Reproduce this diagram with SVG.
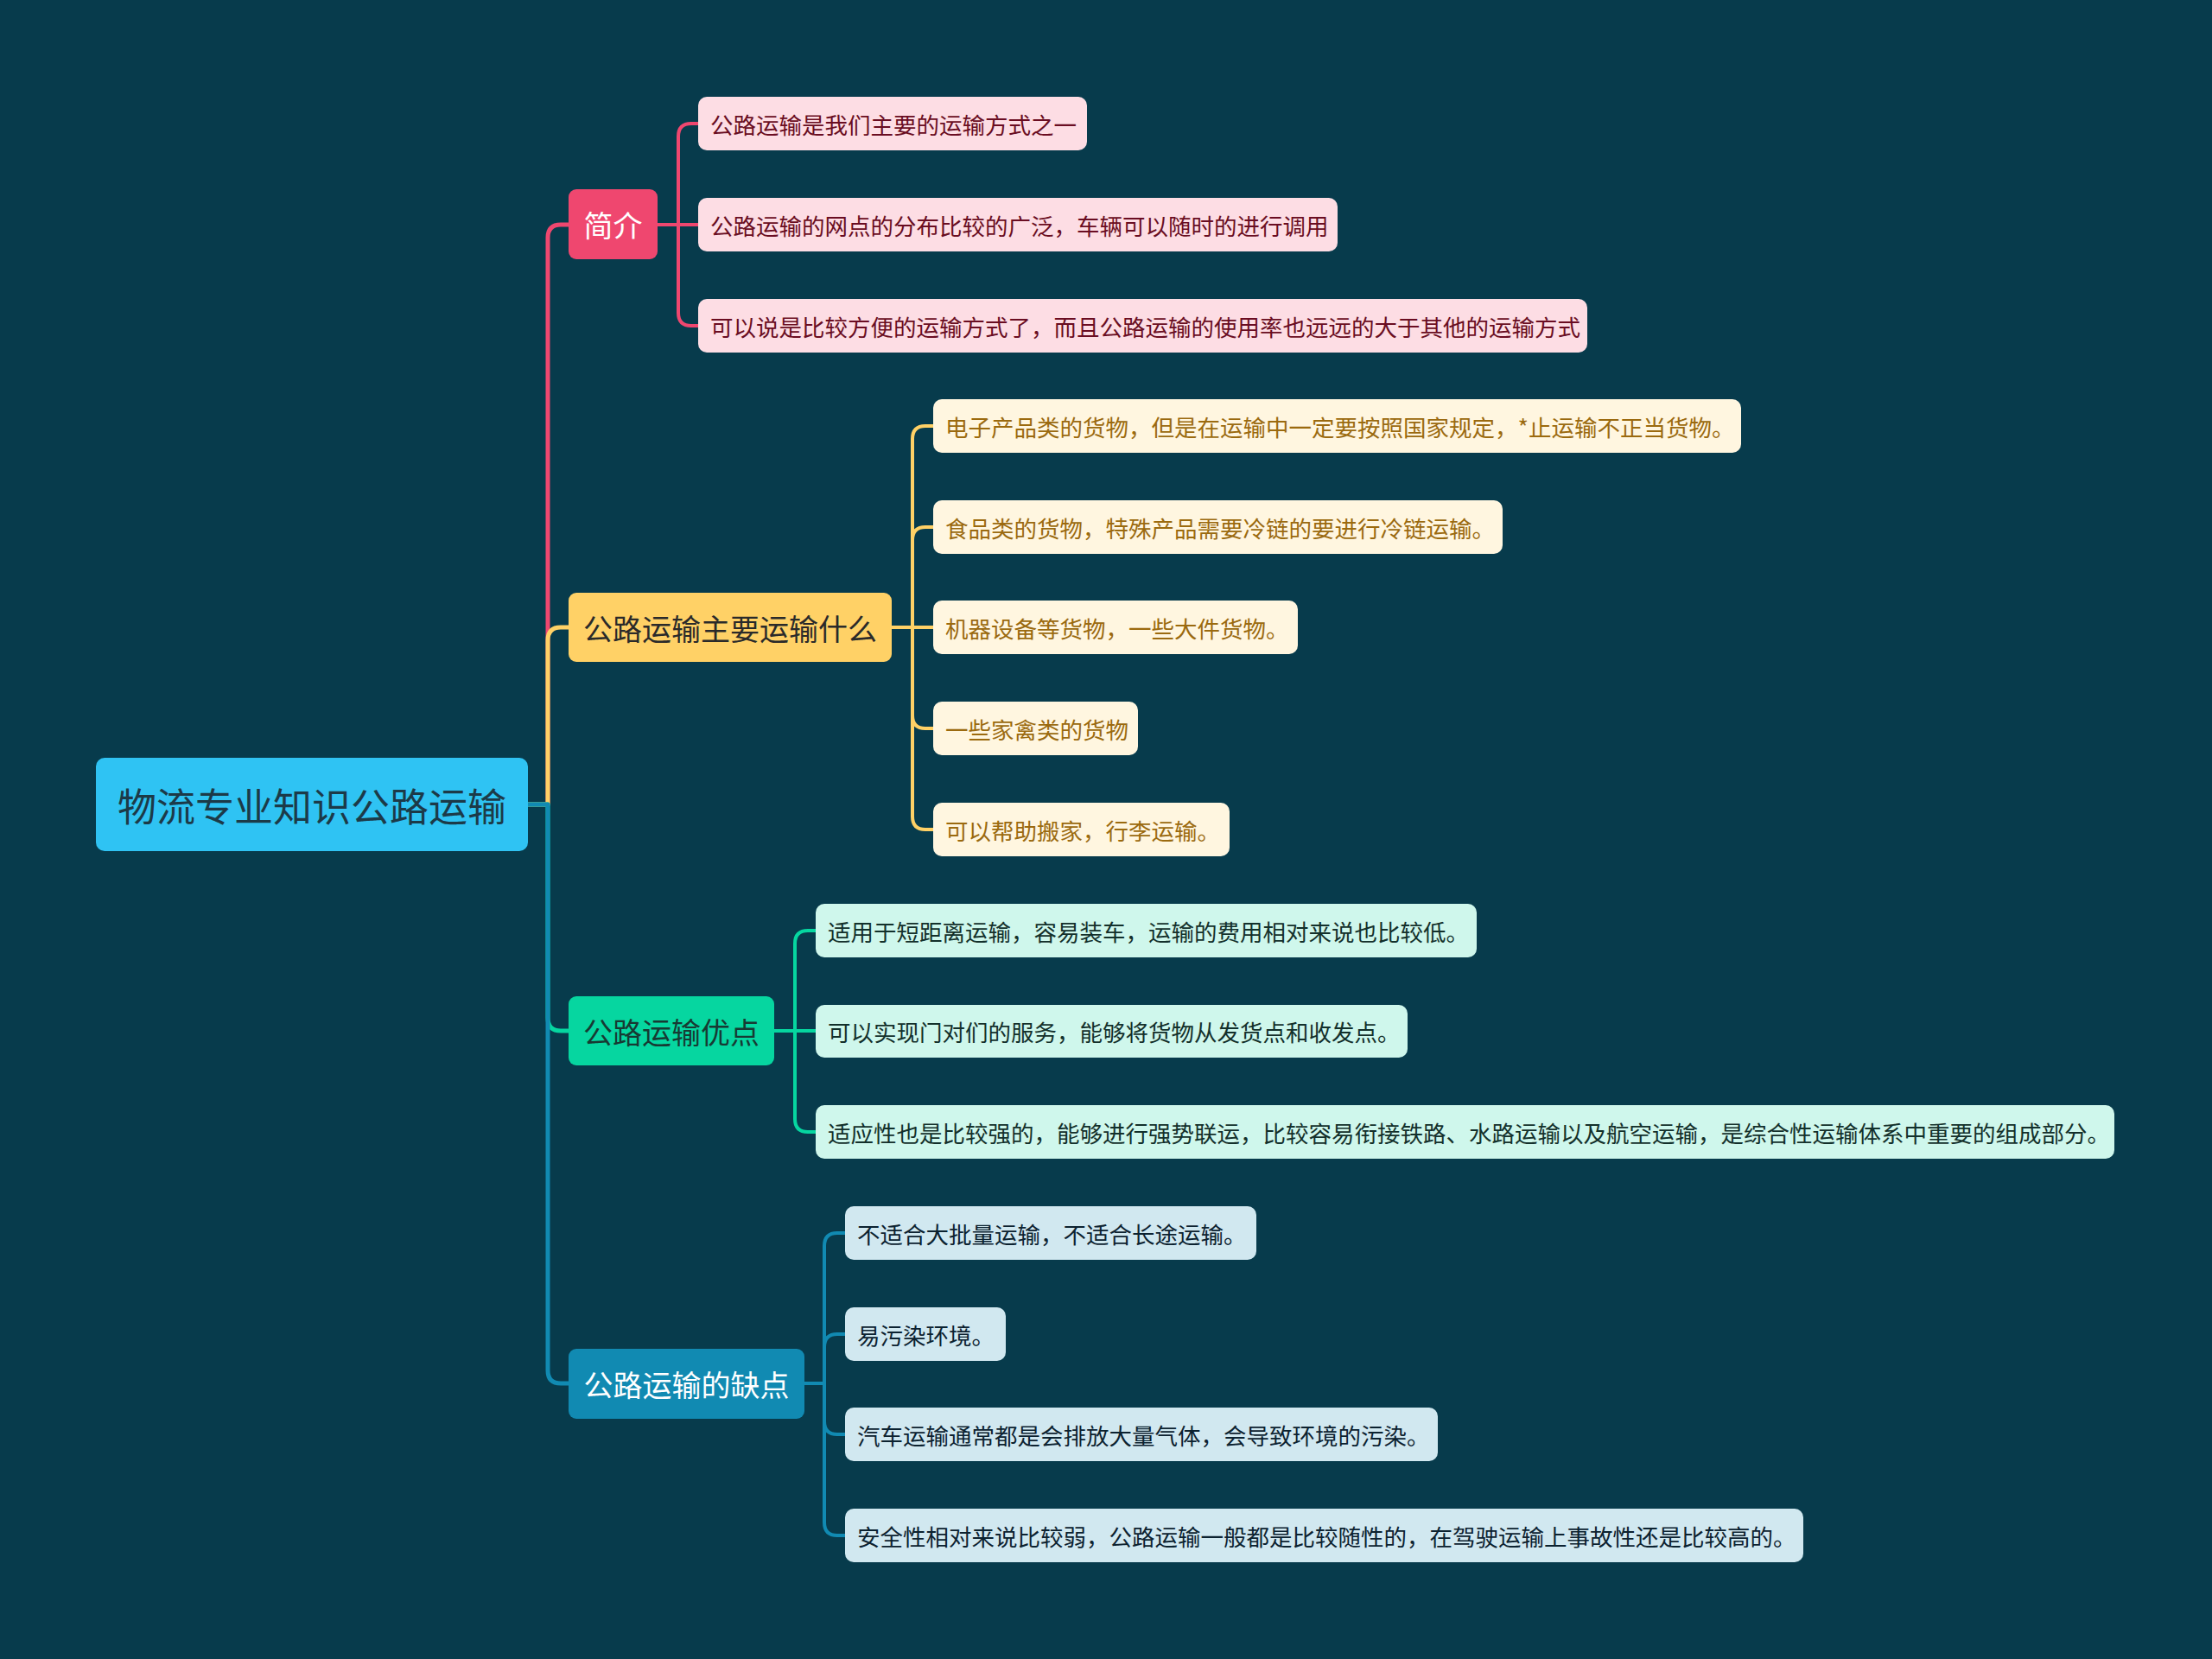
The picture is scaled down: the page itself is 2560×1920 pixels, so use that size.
<svg xmlns="http://www.w3.org/2000/svg" width="2560" height="1920" viewBox="0 0 2560 1920">
<style>
text{font-family:"Noto Sans CJK SC","Noto Sans",sans-serif;dominant-baseline:central}
.c{fill:none;stroke-linecap:round;stroke-linejoin:round}
.m{stroke-width:5}
.l{stroke-width:4}
.leaf text{font-size:26.5px}
.br text{font-size:34px;text-anchor:middle}
.pk{stroke:#ef476f}.yl{stroke:#ffd166}.gr{stroke:#06d6a0}.bl{stroke:#118ab2}
.lp rect{fill:#fddde4}.lp text{fill:#6a0d22}
.ly rect{fill:#fff6e0}.ly text{fill:#9b6a0f}
.lg rect{fill:#cff7ec}.lg text{fill:#13302b}
.lb rect{fill:#d1e8f0}.lb text{fill:#0c2230}
</style>
<rect width="2560" height="1920" fill="#073b4c"/>
<g id="connectors">
<path class="c m pk" d="M611 931 H634 V275 Q634 260 649 260 H658"/>
<path class="c m yl" d="M611 931 H634 V741 Q634 726 649 726 H658"/>
<path class="c m gr" d="M611 931 H634 V1178 Q634 1193 649 1193 H658"/>
<path class="c m bl" d="M611 931 H634 V1586 Q634 1601 649 1601 H658"/>
<path class="c l pk" d="M761 260 H785 V158 Q785 143 800 143 H808"/>
<path class="c l pk" d="M761 260 H808"/>
<path class="c l pk" d="M761 260 H785 V362 Q785 377 800 377 H808"/>
<path class="c l yl" d="M1032 726 H1056 V508 Q1056 493 1071 493 H1080"/>
<path class="c l yl" d="M1032 726 H1056 V625 Q1056 610 1071 610 H1080"/>
<path class="c l yl" d="M1032 726 H1080"/>
<path class="c l yl" d="M1032 726 H1056 V828 Q1056 843 1071 843 H1080"/>
<path class="c l yl" d="M1032 726 H1056 V945 Q1056 960 1071 960 H1080"/>
<path class="c l gr" d="M896 1193 H920 V1092 Q920 1077 935 1077 H944"/>
<path class="c l gr" d="M896 1193 H944"/>
<path class="c l gr" d="M896 1193 H920 V1295 Q920 1310 935 1310 H944"/>
<path class="c l bl" d="M931 1601 H954 V1442 Q954 1427 969 1427 H978"/>
<path class="c l bl" d="M931 1601 H954 V1559 Q954 1544 969 1544 H978"/>
<path class="c l bl" d="M931 1601 H954 V1645 Q954 1660 969 1660 H978"/>
<path class="c l bl" d="M931 1601 H954 V1762 Q954 1777 969 1777 H978"/>
</g>
<g id="root"><rect x="111" y="877" width="500" height="108" rx="10" fill="#2fc3f3"/><text x="361" y="931" font-size="45" text-anchor="middle" fill="#1c3a48">物流专业知识公路运输</text></g>
<g id="b1" class="br"><rect x="658" y="219" width="103" height="81" rx="9" fill="#ef476f"/><text x="709.5" y="259.5" fill="#ffffff">简介</text></g>
<g id="b2" class="br"><rect x="658" y="686" width="374" height="80" rx="9" fill="#ffd166"/><text x="845" y="726" fill="#2a2a2a">公路运输主要运输什么</text></g>
<g id="b3" class="br"><rect x="658" y="1153" width="238" height="80" rx="9" fill="#06d6a0"/><text x="777" y="1193" fill="#173a33">公路运输优点</text></g>
<g id="b4" class="br"><rect x="658" y="1561" width="273" height="81" rx="9" fill="#118ab2"/><text x="794.5" y="1601.5" fill="#ffffff">公路运输的缺点</text></g>
<g id="p1" class="leaf lp"><rect x="808" y="112" width="450" height="62" rx="10"/><text x="822" y="143">公路运输是我们主要的运输方式之一</text></g>
<g id="p2" class="leaf lp"><rect x="808" y="229" width="740" height="62" rx="10"/><text x="822" y="260">公路运输的网点的分布比较的广泛，车辆可以随时的进行调用</text></g>
<g id="p3" class="leaf lp"><rect x="808" y="346" width="1029" height="62" rx="10"/><text x="822" y="377">可以说是比较方便的运输方式了，而且公路运输的使用率也远远的大于其他的运输方式</text></g>
<g id="y1" class="leaf ly"><rect x="1080" y="462" width="935" height="62" rx="10"/><text x="1094" y="493">电子产品类的货物，但是在运输中一定要按照国家规定，*止运输不正当货物。</text></g>
<g id="y2" class="leaf ly"><rect x="1080" y="579" width="659" height="62" rx="10"/><text x="1094" y="610">食品类的货物，特殊产品需要冷链的要进行冷链运输。</text></g>
<g id="y3" class="leaf ly"><rect x="1080" y="695" width="422" height="62" rx="10"/><text x="1094" y="726">机器设备等货物，一些大件货物。</text></g>
<g id="y4" class="leaf ly"><rect x="1080" y="812" width="237" height="62" rx="10"/><text x="1094" y="843">一些家禽类的货物</text></g>
<g id="y5" class="leaf ly"><rect x="1080" y="929" width="343" height="62" rx="10"/><text x="1094" y="960">可以帮助搬家，行李运输。</text></g>
<g id="g1" class="leaf lg"><rect x="944" y="1046" width="765" height="62" rx="10"/><text x="958" y="1077">适用于短距离运输，容易装车，运输的费用相对来说也比较低。</text></g>
<g id="g2" class="leaf lg"><rect x="944" y="1163" width="685" height="61" rx="10"/><text x="958" y="1193.5">可以实现门对们的服务，能够将货物从发货点和收发点。</text></g>
<g id="g3" class="leaf lg"><rect x="944" y="1279" width="1503" height="62" rx="10"/><text x="958" y="1310">适应性也是比较强的，能够进行强势联运，比较容易衔接铁路、水路运输以及航空运输，是综合性运输体系中重要的组成部分。</text></g>
<g id="k1" class="leaf lb"><rect x="978" y="1396" width="476" height="62" rx="10"/><text x="992" y="1427">不适合大批量运输，不适合长途运输。</text></g>
<g id="k2" class="leaf lb"><rect x="978" y="1513" width="186" height="62" rx="10"/><text x="992" y="1544">易污染环境。</text></g>
<g id="k3" class="leaf lb"><rect x="978" y="1629" width="686" height="62" rx="10"/><text x="992" y="1660">汽车运输通常都是会排放大量气体，会导致环境的污染。</text></g>
<g id="k4" class="leaf lb"><rect x="978" y="1746" width="1109" height="62" rx="10"/><text x="992" y="1777">安全性相对来说比较弱，公路运输一般都是比较随性的，在驾驶运输上事故性还是比较高的。</text></g>
</svg>
